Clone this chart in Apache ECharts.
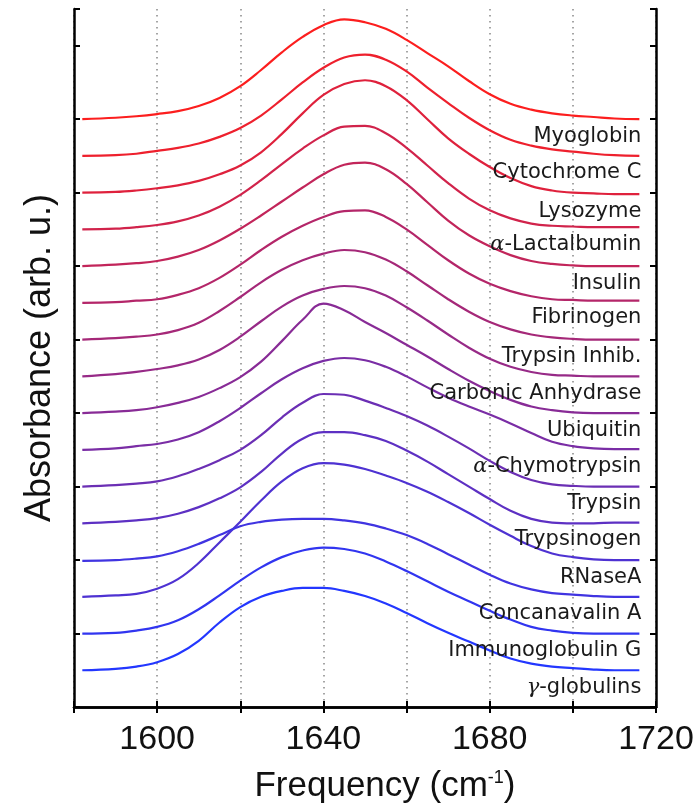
<!DOCTYPE html>
<html><head><meta charset="utf-8">
<script src="https://cdn.jsdelivr.net/npm/echarts@6/dist/echarts.min.js"></script>
<style>html,body{margin:0;padding:0;background:#fff}#c{width:700px;height:809px}</style>
</head><body><div id="c"></div>
<script>
// Frequency sample points (cm^-1)
const freq = [1582, 1590, 1595, 1600, 1605, 1610, 1615, 1620, 1625, 1630, 1635, 1640, 1645, 1650, 1655, 1660, 1665, 1670, 1675, 1680, 1685, 1690, 1695, 1700, 1705, 1710, 1716];

// Protein names (top to bottom)
const names = ['Myoglobin', 'Cytochrome C', 'Lysozyme', '{g|α}-Lactalbumin', 'Insulin', 'Fibrinogen',
  'Trypsin Inhib.', 'Carbonic Anhydrase', 'Ubiquitin', '{g|α}-Chymotrypsin', 'Trypsin', 'Trypsinogen',
  'RNaseA', 'Concanavalin A', 'Immunoglobulin G', '{g|γ}-globulins'];

// Vertical offsets of each stacked spectrum (arb. u.)
const offsets = [8.0, 7.5, 7.0, 6.5, 6.0, 5.5, 5.0, 4.5, 4.0, 3.5, 3.0, 2.5, 2.0, 1.5, 1.0, 0.5];

// Absorbance relative to each offset
const myoglobin      = [0, 0.02, 0.04, 0.07, 0.11, 0.18, 0.29, 0.45, 0.67, 0.91, 1.12, 1.28, 1.36, 1.32, 1.23, 1.08, 0.90, 0.72, 0.52, 0.34, 0.21, 0.13, 0.08, 0.05, 0.03, 0.01, 0.00];
const cytochromeC    = [0, 0.01, 0.03, 0.07, 0.11, 0.17, 0.26, 0.38, 0.55, 0.77, 1.00, 1.20, 1.34, 1.38, 1.31, 1.15, 0.93, 0.72, 0.52, 0.35, 0.22, 0.14, 0.09, 0.06, 0.03, 0.01, 0.00];
const lysozyme       = [0, 0.01, 0.03, 0.06, 0.10, 0.16, 0.25, 0.37, 0.55, 0.80, 1.08, 1.33, 1.48, 1.53, 1.45, 1.26, 1.00, 0.74, 0.53, 0.35, 0.20, 0.09, 0.03, 0.00, -0.01, -0.02, -0.02];
const aLactalbumin   = [0, 0.01, 0.03, 0.06, 0.11, 0.19, 0.31, 0.47, 0.67, 0.89, 1.10, 1.28, 1.40, 1.41, 1.31, 1.11, 0.87, 0.63, 0.42, 0.26, 0.15, 0.08, 0.05, 0.04, 0.03, 0.03, 0.03];
const insulin        = [0, 0.02, 0.04, 0.07, 0.13, 0.22, 0.35, 0.51, 0.69, 0.88, 1.07, 1.25, 1.38, 1.41, 1.32, 1.12, 0.87, 0.62, 0.42, 0.27, 0.15, 0.07, 0.03, 0.01, 0.00, 0.00, 0.00];
const fibrinogen     = [0, 0.01, 0.03, 0.05, 0.11, 0.20, 0.34, 0.52, 0.72, 0.90, 1.05, 1.17, 1.25, 1.26, 1.17, 1.00, 0.79, 0.58, 0.40, 0.26, 0.16, 0.09, 0.05, 0.04, 0.03, 0.03, 0.03];
const trypsinInhib   = [0, 0.02, 0.04, 0.07, 0.13, 0.23, 0.39, 0.58, 0.78, 0.95, 1.08, 1.17, 1.22, 1.19, 1.09, 0.93, 0.74, 0.55, 0.38, 0.24, 0.14, 0.07, 0.03, 0.01, 0.00, 0.00, 0.00];
const carbonicAnh    = [0, 0.03, 0.06, 0.10, 0.15, 0.23, 0.36, 0.54, 0.75, 0.95, 1.10, 1.19, 1.23, 1.20, 1.10, 0.94, 0.76, 0.57, 0.39, 0.24, 0.13, 0.06, 0.02, 0.01, 0.00, 0.00, 0.00];
const ubiquitin      = [0, 0.02, 0.04, 0.08, 0.14, 0.22, 0.34, 0.49, 0.70, 0.98, 1.27, 1.49, 1.40, 1.24, 1.09, 0.93, 0.77, 0.60, 0.44, 0.30, 0.18, 0.09, 0.04, 0.01, 0.00, 0.00, 0.00];
const aChymotrypsin  = [0, 0.02, 0.05, 0.08, 0.14, 0.24, 0.39, 0.57, 0.77, 0.96, 1.11, 1.21, 1.25, 1.22, 1.13, 1.00, 0.85, 0.71, 0.59, 0.48, 0.36, 0.23, 0.11, 0.05, 0.02, 0.01, 0.01];
const trypsin        = [0, 0.02, 0.04, 0.07, 0.14, 0.24, 0.36, 0.50, 0.70, 0.94, 1.14, 1.26, 1.25, 1.17, 1.07, 0.96, 0.83, 0.68, 0.52, 0.35, 0.20, 0.09, 0.03, 0.01, 0.00, 0.00, 0.00];
const trypsinogen    = [0, 0.02, 0.04, 0.07, 0.13, 0.22, 0.34, 0.49, 0.70, 0.95, 1.15, 1.24, 1.24, 1.20, 1.12, 0.99, 0.84, 0.67, 0.50, 0.33, 0.17, 0.06, 0.01, 0.00, 0.00, 0.01, 0.01];
const rnaseA         = [-0.50, -0.48, -0.46, -0.39, -0.26, -0.04, 0.24, 0.52, 0.81, 1.07, 1.25, 1.32, 1.30, 1.24, 1.15, 1.05, 0.93, 0.79, 0.64, 0.48, 0.33, 0.19, 0.09, 0.04, 0.01, 0.00, 0.00];
const concanavalinA  = [0.49, 0.50, 0.52, 0.55, 0.62, 0.72, 0.84, 0.96, 1.02, 1.05, 1.06, 1.06, 1.04, 1.00, 0.93, 0.84, 0.72, 0.58, 0.44, 0.30, 0.18, 0.10, 0.05, 0.03, 0.01, 0.00, 0.00];
const immunoglobG    = [0, 0.01, 0.04, 0.09, 0.18, 0.33, 0.52, 0.72, 0.90, 1.04, 1.13, 1.17, 1.15, 1.09, 0.98, 0.85, 0.71, 0.57, 0.44, 0.31, 0.19, 0.09, 0.04, 0.01, 0.00, 0.00, 0.00];
const gammaGlobulins = [0, 0.02, 0.05, 0.11, 0.22, 0.40, 0.65, 0.86, 1.00, 1.08, 1.12, 1.12, 1.08, 1.01, 0.91, 0.78, 0.64, 0.51, 0.39, 0.27, 0.16, 0.09, 0.05, 0.03, 0.01, 0.00, 0.00];

const spectra = [myoglobin, cytochromeC, lysozyme, aLactalbumin, insulin, fibrinogen, trypsinInhib,
  carbonicAnh, ubiquitin, aChymotrypsin, trypsin, trypsinogen, rnaseA, concanavalinA, immunoglobG, gammaGlobulins];

const xTickLabels = [1600, 1640, 1680, 1720];

function colorAt(k, n) {
  const a = [252, 30, 30], b = [35, 55, 255];
  const t = k / (n - 1);
  const c = a.map((v, i) => Math.round(v + (b[i] - v) * t));
  return 'rgb(' + c.join(',') + ')';
}

const series = spectra.map((vals, k) => ({
  type: 'line',
  name: names[k],
  data: freq.map((f, i) => [f, offsets[k] + vals[i]]),
  smooth: 0.4,
  symbol: 'none',
  lineStyle: { width: 2.2, color: colorAt(k, spectra.length) },
  itemStyle: { color: colorAt(k, spectra.length) },
  z: 3,
  endLabel: {
    show: true,
    formatter: names[k],
    align: 'right',
    verticalAlign: 'middle',
    distance: 0,
    offset: [2, 17],
    color: '#1a1a1a',
    fontFamily: 'DejaVu Sans',
    fontSize: 21,
    rich: { g: { fontFamily: 'DejaVu Serif', fontStyle: 'italic', fontSize: 21, color: '#1a1a1a' } }
  }
}));

const axisLineStyle = { show: true, lineStyle: { color: '#000', width: 2.5 } };
const tickStyle = { show: true, inside: true, length: 6, lineStyle: { color: '#000', width: 2 } };

const chart = echarts.init(document.getElementById('c'));
chart.setOption({
  animation: false,
  backgroundColor: '#fff',
  grid: { left: 74, right: 44, top: 9, bottom: 102 },
  xAxis: [{
    type: 'value', min: 1580, max: 1720, interval: 20, position: 'bottom',
    axisLine: axisLineStyle, axisTick: tickStyle,
    splitLine: { show: true, lineStyle: { color: '#888', width: 1.5, type: [1.5, 4.5] } },
    axisLabel: {
      margin: 16, color: '#111', fontFamily: 'Liberation Sans', fontSize: 34,
      formatter: v => xTickLabels.includes(v) ? String(v) : ''
    },
    name: 'Frequency (cm{s|-1})', nameLocation: 'middle', nameGap: 62,
    nameTextStyle: {
      color: '#111', fontFamily: 'Liberation Sans', fontSize: 35, padding: [0, 0, 0, 40],
      rich: { s: { fontSize: 18, verticalAlign: 'top', padding: [0, 0, 16, 0], fontFamily: 'Liberation Sans', color: '#111' } }
    }
  }, {
    type: 'value', min: 1580, max: 1720, interval: 20, position: 'top',
    axisLine: axisLineStyle, axisTick: tickStyle, axisLabel: { show: false }, splitLine: { show: false }
  }],
  yAxis: [{
    type: 'value', min: 0, max: 9.5, interval: 1, position: 'left',
    axisLine: axisLineStyle, axisTick: tickStyle, axisLabel: { show: false }, splitLine: { show: false },
    name: 'Absorbance (arb. u.)', nameLocation: 'middle', nameGap: 16,
    nameTextStyle: { color: '#111', fontFamily: 'Liberation Sans', fontSize: 36 }
  }, {
    type: 'value', min: 0, max: 9.5, interval: 1, position: 'right',
    axisLine: axisLineStyle, axisTick: tickStyle, axisLabel: { show: false }, splitLine: { show: false }
  }],
  series: series
});
</script>
</body></html>
